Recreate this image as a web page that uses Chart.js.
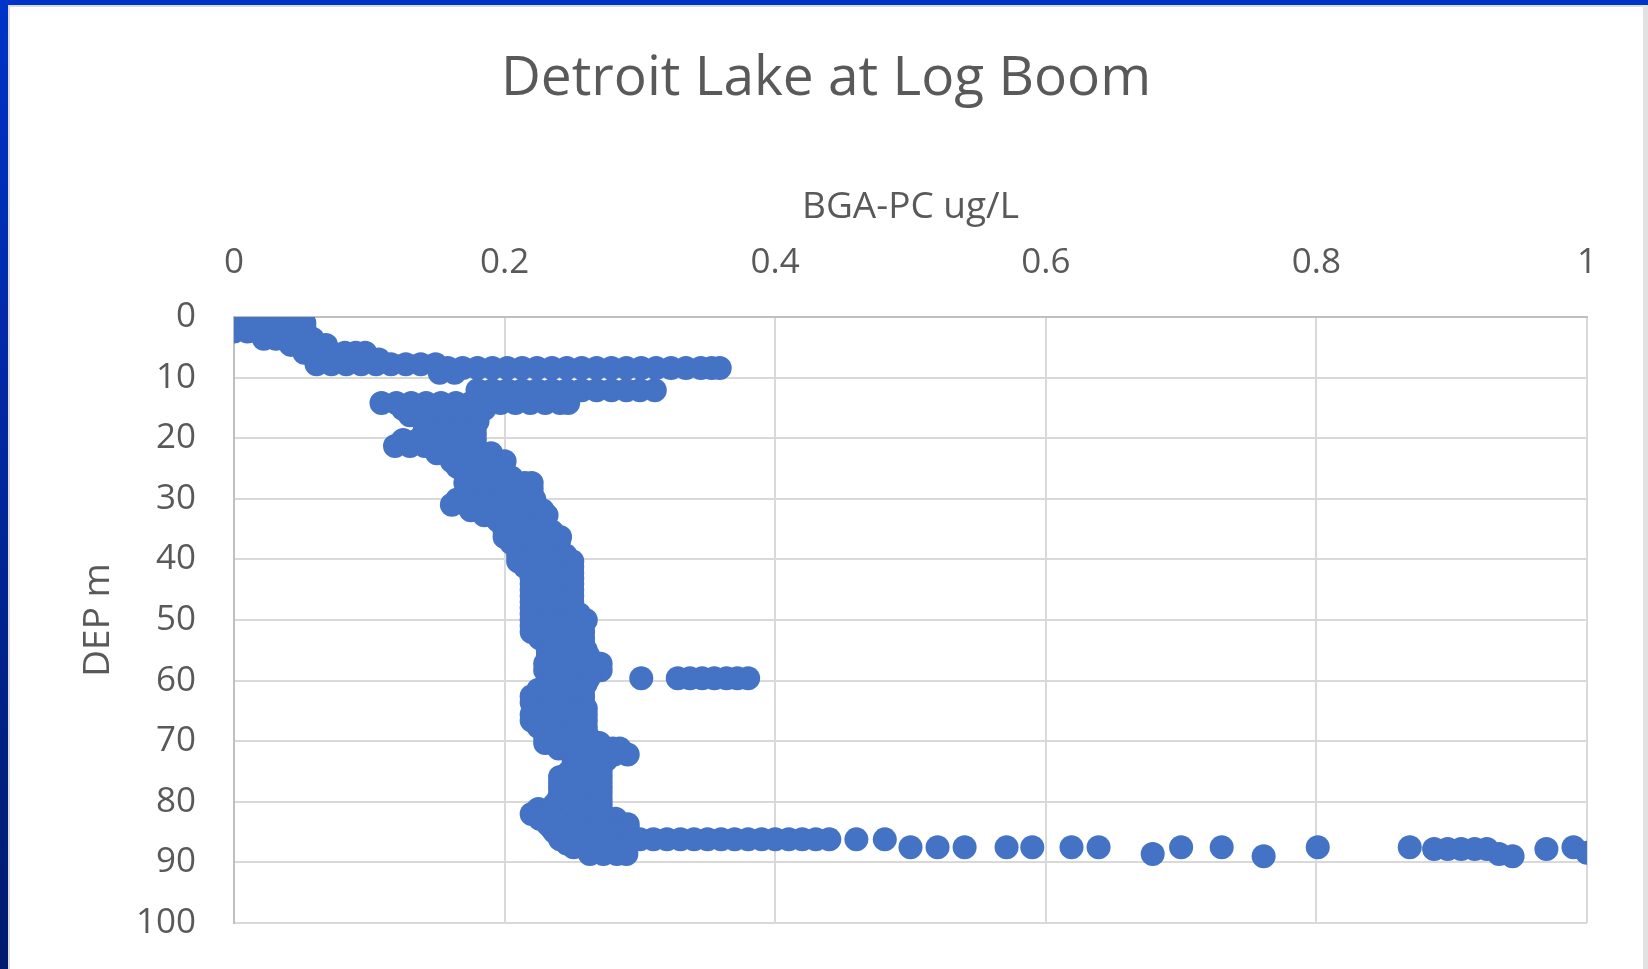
<!DOCTYPE html>
<html>
<head>
<meta charset="utf-8">
<title>Detroit Lake at Log Boom</title>
<script src="https://cdn.jsdelivr.net/npm/chart.js@4.4.7/dist/chart.umd.min.js"></script>
<style>
  html, body { margin: 0; padding: 0; background: #fff; overflow: hidden; }
  #wrap { position: relative; width: 1648px; height: 969px; background: #fff; }
  #chart { position: absolute; left: 0; top: 0; }
  .edge { position: absolute; }
  #topBar { left: 0; top: 0; width: 1648px; height: 5px; background: #0033c8; }
  #topLine { left: 8px; top: 5px; width: 1640px; height: 2px; background: #dcdcdc; }
  #leftBar { left: 0; top: 0; width: 8px; height: 969px; background: linear-gradient(#0033c8, #001b6e); }
  #leftLine { left: 8px; top: 5px; width: 2px; height: 964px; background: #dcdcdc; }
  #rightLine { left: 1643px; top: 5px; width: 5px; height: 964px; background: #e2e2e2; }
</style>
</head>
<body>
<div id="wrap">
  <canvas id="chart" width="1648" height="969"></canvas>
  <div class="edge" id="topBar"></div>
  <div class="edge" id="topLine"></div>
  <div class="edge" id="leftBar"></div>
  <div class="edge" id="leftLine"></div>
  <div class="edge" id="rightLine"></div>
</div>
<script>
const titleText = 'Detroit Lake at Log Boom';
const xAxisTitle = 'BGA-PC ug/L';
const yAxisTitle = 'DEP m';
const xTickLabels = ['0', '0.2', '0.4', '0.6', '0.8', '1'];
const yTickLabels = ['0', '10', '20', '30', '40', '50', '60', '70', '80', '90', '100'];

// profile readings, one row per depth (m); each row holds the BGA-PC values (ug/L) read at that depth
const depthRows = [
  1.0, 1.7, 2.4, 3.6, 4.6, 5.9, 7.0, 7.8, 8.4, 9.2,
  12.1, 14.2, 15.2, 16.2, 17.2, 18.3, 19.3, 20.3, 21.3, 22.5,
  23.8, 24.7, 25.6, 26.5, 27.4, 28.3, 29.2, 30.1, 31.0, 31.9,
  32.7, 33.6, 34.5, 35.4, 36.3, 37.3, 38.3, 39.3, 40.3, 41.2,
  42.2, 43.1, 44.0, 45.0, 46.0, 47.0, 48.0, 49.0, 50.0, 51.0,
  52.0, 53.0, 54.0, 55.0, 56.0, 57.2, 58.3, 59.6, 60.5, 61.5,
  62.6, 63.6, 64.6, 65.6, 66.6, 67.6, 68.5, 69.4, 70.3, 71.2,
  72.2, 73.1, 74.0, 75.0, 75.9, 76.8, 77.7, 78.6, 79.5, 80.4,
  81.2, 82.0, 82.8, 83.7, 84.4, 85.0, 86.2, 86.9, 87.5, 87.8,
  88.4, 88.6, 89.0
];

const bgaRows = [
  [0.000, 0.010, 0.020, 0.030, 0.040, 0.052],
  [0.000, 0.010, 0.020, 0.030, 0.040, 0.052],
  [0.000, 0.010, 0.020, 0.030, 0.040, 0.052],
  [0.022, 0.031, 0.040, 0.050, 0.058],
  [0.042, 0.052, 0.060, 0.068],
  [0.052, 0.062, 0.072, 0.082, 0.090, 0.097],
  [0.061, 0.071, 0.081, 0.091, 0.100, 0.107],
  [0.061, 0.072, 0.083, 0.094, 0.105, 0.116, 0.127, 0.138, 0.149],
  [0.158, 0.169, 0.180, 0.191, 0.202, 0.213, 0.224, 0.235, 0.246, 0.257, 0.268, 0.279, 0.290, 0.301, 0.312, 0.323, 0.334, 0.345, 0.353, 0.359],
  [0.152, 0.163],
  [0.180, 0.191, 0.202, 0.213, 0.224, 0.235, 0.246, 0.257, 0.268, 0.279, 0.290, 0.300, 0.311],
  [0.109, 0.120, 0.131, 0.142, 0.153, 0.164, 0.175, 0.186, 0.197, 0.208, 0.219, 0.230, 0.241, 0.247],
  [0.125, 0.136, 0.147, 0.158, 0.169, 0.180, 0.185],
  [0.130, 0.141, 0.152, 0.163, 0.174, 0.180],
  [0.140, 0.150, 0.160, 0.170, 0.180],
  [0.145, 0.156, 0.167, 0.178],
  [0.140, 0.150, 0.160, 0.170, 0.178],
  [0.125, 0.136, 0.147, 0.158, 0.169, 0.178],
  [0.119, 0.130, 0.141, 0.152, 0.163, 0.174, 0.178],
  [0.150, 0.160, 0.170, 0.180, 0.190],
  [0.161, 0.172, 0.183, 0.194, 0.200],
  [0.165, 0.175, 0.185, 0.195],
  [0.170, 0.180, 0.190],
  [0.172, 0.183, 0.194, 0.205],
  [0.171, 0.182, 0.193, 0.204, 0.215, 0.220],
  [0.178, 0.188, 0.198, 0.209, 0.220],
  [0.180, 0.190, 0.200, 0.210, 0.220],
  [0.165, 0.176, 0.187, 0.198, 0.209, 0.222],
  [0.161, 0.172, 0.183, 0.194, 0.205, 0.216, 0.222],
  [0.175, 0.186, 0.197, 0.208, 0.219, 0.228],
  [0.185, 0.196, 0.207, 0.218, 0.231],
  [0.195, 0.205, 0.215, 0.228],
  [0.200, 0.210, 0.220, 0.225],
  [0.200, 0.211, 0.222, 0.235],
  [0.200, 0.211, 0.222, 0.233, 0.241],
  [0.205, 0.216, 0.228, 0.240],
  [0.210, 0.220, 0.230, 0.240],
  [0.210, 0.222, 0.234, 0.245],
  [0.210, 0.221, 0.232, 0.243, 0.250],
  [0.215, 0.226, 0.238, 0.250],
  [0.220, 0.230, 0.240, 0.250],
  [0.220, 0.230, 0.240, 0.250],
  [0.220, 0.230, 0.240, 0.250],
  [0.220, 0.230, 0.240, 0.250],
  [0.220, 0.230, 0.240, 0.250],
  [0.220, 0.230, 0.240, 0.250],
  [0.220, 0.230, 0.240, 0.250],
  [0.220, 0.232, 0.244, 0.255],
  [0.220, 0.231, 0.242, 0.253, 0.260],
  [0.220, 0.230, 0.240, 0.250, 0.258],
  [0.220, 0.230, 0.240, 0.250, 0.258],
  [0.226, 0.236, 0.246, 0.258],
  [0.232, 0.242, 0.252, 0.258],
  [0.232, 0.242, 0.252, 0.260],
  [0.232, 0.242, 0.252, 0.262],
  [0.230, 0.241, 0.252, 0.263, 0.271],
  [0.230, 0.241, 0.252, 0.263, 0.271],
  [0.232, 0.242, 0.252, 0.262, 0.301, 0.328, 0.337, 0.346, 0.355, 0.364, 0.372, 0.380],
  [0.232, 0.242, 0.252, 0.260],
  [0.225, 0.236, 0.247, 0.258],
  [0.220, 0.230, 0.240, 0.250, 0.258],
  [0.220, 0.230, 0.240, 0.250, 0.258],
  [0.224, 0.234, 0.244, 0.254, 0.260],
  [0.220, 0.230, 0.240, 0.250, 0.260],
  [0.220, 0.230, 0.240, 0.250, 0.260],
  [0.225, 0.236, 0.248, 0.260],
  [0.230, 0.240, 0.250, 0.260],
  [0.230, 0.241, 0.252, 0.262],
  [0.230, 0.240, 0.250, 0.260, 0.270],
  [0.240, 0.250, 0.260, 0.270, 0.280, 0.285],
  [0.251, 0.261, 0.271, 0.281, 0.291],
  [0.251, 0.261, 0.270, 0.275],
  [0.251, 0.261, 0.271],
  [0.248, 0.259, 0.271],
  [0.241, 0.251, 0.261, 0.271],
  [0.241, 0.251, 0.261, 0.271],
  [0.241, 0.251, 0.261, 0.271],
  [0.241, 0.251, 0.261, 0.271],
  [0.240, 0.250, 0.260, 0.271],
  [0.237, 0.247, 0.257, 0.267, 0.271],
  [0.225, 0.236, 0.247, 0.258, 0.271],
  [0.220, 0.230, 0.241, 0.252, 0.262, 0.271],
  [0.226, 0.237, 0.248, 0.259, 0.270, 0.282],
  [0.232, 0.242, 0.252, 0.262, 0.272, 0.282, 0.291],
  [0.235, 0.245, 0.255, 0.265, 0.275, 0.285, 0.291],
  [0.237, 0.247, 0.257, 0.267, 0.277, 0.287, 0.291],
  [0.241, 0.251, 0.261, 0.271, 0.281, 0.291, 0.300, 0.310, 0.320, 0.330, 0.340, 0.350, 0.360, 0.370, 0.380, 0.390, 0.400, 0.410, 0.420, 0.430, 0.440, 0.460, 0.481],
  [0.246, 0.256, 0.266, 0.276, 0.286, 0.291],
  [0.251, 0.261, 0.271, 0.281, 0.290, 0.500, 0.520, 0.540, 0.571, 0.590, 0.619, 0.639, 0.700, 0.730, 0.801, 0.869, 0.990],
  [0.887, 0.897, 0.907, 0.917, 0.926, 0.970],
  [1.000],
  [0.263, 0.273, 0.283, 0.290, 0.679, 0.935],
  [0.761, 0.945]
];

const FONT = '"Open Sans", "Noto Sans", sans-serif';
const TEXT = '#595959';

const points = [];
depthRows.forEach((d, i) => {
  bgaRows[i].forEach(v => points.push({ x: v, y: d }));
});

new Chart(document.getElementById('chart'), {
  type: 'scatter',
  data: {
    datasets: [{
      data: points,
      backgroundColor: '#4472C4',
      borderWidth: 0,
      pointRadius: 12,
      pointHoverRadius: 12,
    }],
  },
  options: {
    responsive: false,
    animation: false,
    events: [],
    layout: { padding: { left: 65, right: 61, top: 0, bottom: 46 } },
    plugins: {
      legend: { display: false },
      tooltip: { enabled: false },
      title: {
        display: true,
        text: titleText,
        color: TEXT,
        font: { family: FONT, size: 55, weight: 'normal' },
        padding: { top: 46, bottom: 0 },
      },
    },
    scales: {
      x: {
        type: 'linear',
        position: 'top',
        min: 0,
        max: 1,
        ticks: {
          stepSize: 0.2,
          padding: 33,
          color: TEXT,
          font: { family: FONT, size: 35 },
          callback: v => xTickLabels[Math.round(v / 0.2)],
        },
        grid: { color: '#d9d9d9', lineWidth: 2, drawTicks: false },
        border: { color: '#bfbfbf', width: 2 },
        title: {
          display: true,
          text: xAxisTitle,
          color: TEXT,
          font: { family: FONT, size: 37 },
          padding: { top: 73, bottom: 0 },
        },
        afterFit: s => { s.height = 205; s.paddingLeft = 0; s.paddingRight = 0; },
      },
      y: {
        type: 'linear',
        reverse: true,
        min: 0,
        max: 100,
        ticks: {
          stepSize: 10,
          padding: 38,
          color: TEXT,
          font: { family: FONT, size: 35 },
          callback: v => yTickLabels[Math.round(v / 10)],
        },
        grid: { color: '#d9d9d9', lineWidth: 2, drawTicks: false },
        border: { color: '#bfbfbf', width: 2 },
        title: {
          display: true,
          text: yAxisTitle,
          color: TEXT,
          font: { family: FONT, size: 37 },
          padding: { top: 11, bottom: 0 },
        },
        afterFit: s => { s.width = 169; s.paddingTop = 0; s.paddingBottom = 0; },
      },
    },
  },
});
</script>
</body>
</html>
